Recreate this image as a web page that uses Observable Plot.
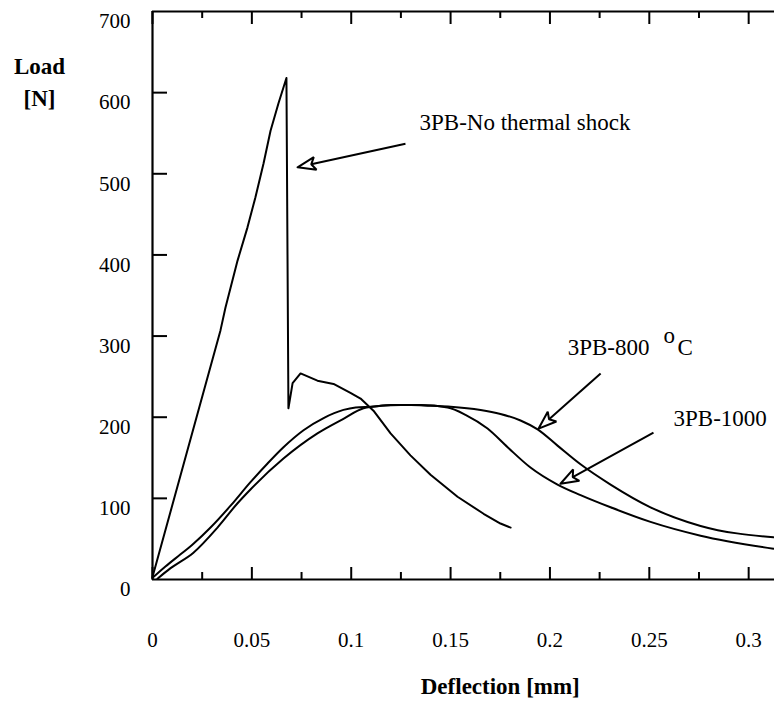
<!DOCTYPE html>
<html>
<head>
<meta charset="utf-8">
<script src="https://cdn.jsdelivr.net/npm/d3@7"></script>
<script src="https://cdn.jsdelivr.net/npm/@observablehq/plot@0.6"></script>
<style>
  html, body { margin: 0; padding: 0; background: #fff; }
  #chart svg { display: block; }
</style>
</head>
<body>
<div id="chart"></div>
<script>
// ---------- data ----------
const ntsX = [0, 0.0342, 0.0367, 0.0428, 0.0478, 0.0518, 0.0559, 0.0594, 0.0634, 0.0674, 0.0684, 0.0705, 0.0745, 0.0830, 0.0911, 0.0996, 0.1047, 0.1112, 0.1198, 0.1298, 0.1399, 0.1535, 0.1666, 0.1751, 0.1802];
const ntsY = [3, 307, 335, 393, 434, 471, 513, 553, 587, 618, 211, 242, 254, 245, 241, 230, 223, 208, 180, 153, 129, 102, 81, 69, 64];

const t800X = [0, 0.0065, 0.0141, 0.0206, 0.0292, 0.0393, 0.0493, 0.0579, 0.0659, 0.0760, 0.0861, 0.0961, 0.1022, 0.1100, 0.1200, 0.1300, 0.1399, 0.1500, 0.1651, 0.1751, 0.1852, 0.1938, 0.2038, 0.2154, 0.2305, 0.2506, 0.2758, 0.3125];
const t800Y = [2, 16, 31, 44, 64, 91, 120, 143, 163, 184, 199, 209, 212, 213, 215, 215, 214, 213, 209, 204, 196, 185, 165, 142, 117, 89, 66, 52];

const t1000X = [0.0025, 0.0091, 0.0206, 0.0327, 0.0428, 0.0493, 0.0659, 0.0830, 0.0961, 0.1062, 0.1150, 0.1250, 0.1350, 0.1485, 0.1575, 0.1686, 0.1787, 0.1902, 0.2038, 0.2154, 0.2305, 0.2506, 0.2758, 0.3125];
const t1000Y = [1, 14, 33, 64, 94, 111, 149, 180, 198, 211, 214, 215, 215, 212, 203, 186, 163, 138, 117, 104, 89, 71, 54, 38];

const xTicks = [0, 0.05, 0.1, 0.15, 0.2, 0.25, 0.3];
const xTickLabels = ["0", "0.05", "0.1", "0.15", "0.2", "0.25", "0.3"];
const xMinorTicks = [0.025, 0.075, 0.125, 0.175, 0.225, 0.275];
const yTicks = [0, 100, 200, 300, 400, 500, 600, 700];
const yInnerTicks = [100, 200, 300, 400, 500, 600];
const xLabel = "Deflection [mm]";
const yLabel = "Load\n[N]";

// annotation texts (data coordinates, left-anchored)
const noteText = ["3PB-No thermal shock", "3PB-800", "o", "C", "3PB-1000"];
const noteX = [0.1344, 0.2089, 0.2572, 0.2642, 0.2622];
const noteY = [563, 286, 301, 286, 198];

// arrows: tail (x1,y1) -> tip (x2,y2), data coordinates
const arrowX1 = [0.1273, 0.2255, 0.2521];
const arrowY1 = [537, 254, 181];
const arrowX2 = [0.0730, 0.1943, 0.2053];
const arrowY2 = [508, 186, 118];

// ---------- layout ----------
const W = 774, H = 704;
const mL = 152, mR = 0, mT = 11, mB = 125;
const xDomain = [0, 0.313], yDomain = [0, 700];
const FONT = "'Liberation Serif', 'Times New Roman', serif";

const curves = [];
t800X.forEach((x, i) => curves.push({s: "800", x, y: t800Y[i]}));
t1000X.forEach((x, i) => curves.push({s: "1000", x, y: t1000Y[i]}));
const nts = ntsX.map((x, i) => ({x, y: ntsY[i]}));

const notes = noteText.map((t, i) => ({t, x: noteX[i], y: noteY[i]}));

// arrow heads built through the plot's own scales
const sx = Plot.scale({x: {domain: xDomain, range: [mL, W - mR]}});
const sy = Plot.scale({y: {domain: yDomain, range: [H - mB, mT]}});
const heads = [], shafts = [];
arrowX1.forEach((_, i) => {
  const tx = sx.apply(arrowX2[i]), ty = sy.apply(arrowY2[i]);
  const ox = sx.apply(arrowX1[i]), oy = sy.apply(arrowY1[i]);
  const len = Math.hypot(ox - tx, oy - ty);
  const ux = (ox - tx) / len, uy = (oy - ty) / len;
  const px = -uy, py = ux;
  const L = 18, Hw = 6.5, N = 14;
  const pts = [
    [tx, ty],
    [tx + ux * L + px * Hw, ty + uy * L + py * Hw],
    [tx + ux * N, ty + uy * N],
    [tx + ux * L - px * Hw, ty + uy * L - py * Hw],
    [tx, ty]
  ];
  pts.forEach(([a, b]) => heads.push({k: i, x: sx.invert(a), y: sy.invert(b)}));
  shafts.push({x1: arrowX1[i], y1: arrowY1[i], x2: sx.invert(tx + ux * N), y2: sy.invert(ty + uy * N)});
});

const plot = Plot.plot({
  width: W, height: H,
  marginLeft: mL, marginRight: mR, marginTop: mT, marginBottom: mB,
  style: {fontFamily: FONT, background: "#fff", color: "#000", overflow: "visible"},
  x: {domain: xDomain},
  y: {domain: yDomain},
  marks: [
    // frame
    Plot.ruleX([0], {stroke: "#000", strokeWidth: 2.2}),
    Plot.ruleY([0], {stroke: "#000", strokeWidth: 2.2}),
    Plot.ruleY([700], {stroke: "#000", strokeWidth: 2.2}),
    // inward ticks on bottom
    Plot.axisX(xTicks, {anchor: "top", frameAnchor: "bottom", tickSize: 13, strokeWidth: 2, fill: "none", label: null}),
    Plot.axisX(xMinorTicks, {anchor: "top", frameAnchor: "bottom", tickSize: 8, strokeWidth: 2, fill: "none", label: null}),
    // inward ticks on top
    Plot.axisX(xTicks, {anchor: "bottom", frameAnchor: "top", tickSize: 13, strokeWidth: 2, fill: "none", label: null}),
    Plot.axisX(xMinorTicks, {anchor: "bottom", frameAnchor: "top", tickSize: 7, strokeWidth: 2, fill: "none", label: null}),
    // inward ticks on left
    Plot.axisY(yInnerTicks, {anchor: "right", frameAnchor: "left", tickSize: 14, strokeWidth: 2, fill: "none", label: null}),
    // tick labels
    Plot.axisX(xTicks, {anchor: "bottom", tickSize: 0, tickPadding: 53, fontSize: 21, label: null,
      tickFormat: (d) => xTickLabels[xTicks.indexOf(d)]}),
    Plot.axisY(yTicks, {anchor: "left", tickSize: 0, tickPadding: 22, dy: 10, fontSize: 21, label: null,
      tickFormat: (d) => String(d)}),
    // axis titles
    Plot.text([xLabel], {x: 0.175, y: 0, dy: 107, text: (d) => d, fontSize: 23, fontWeight: "bold", textAnchor: "middle", lineAnchor: "middle"}),
    Plot.text([yLabel], {frameAnchor: "top-left", dx: -113, dy: 68, text: (d) => d, fontSize: 23, fontWeight: "bold", textAnchor: "middle", lineAnchor: "middle", lineHeight: 1.4}),
    // curves
    Plot.line(nts, {x: "x", y: "y", stroke: "#000", strokeWidth: 2, curve: "linear"}),
    Plot.line(curves, {x: "x", y: "y", z: "s", stroke: "#000", strokeWidth: 2, curve: "monotone-x"}),
    // arrows
    Plot.link(shafts, {x1: "x1", y1: "y1", x2: "x2", y2: "y2", stroke: "#000", strokeWidth: 2}),
    Plot.line(heads, {x: "x", y: "y", z: "k", stroke: "#000", strokeWidth: 2, strokeLinejoin: "miter"}),
    // annotations
    Plot.text(notes, {x: "x", y: "y", text: "t", textAnchor: "start", fontSize: 23, lineAnchor: "middle", fill: "#000"})
  ]
});
document.getElementById("chart").appendChild(plot);
</script>
</body>
</html>
